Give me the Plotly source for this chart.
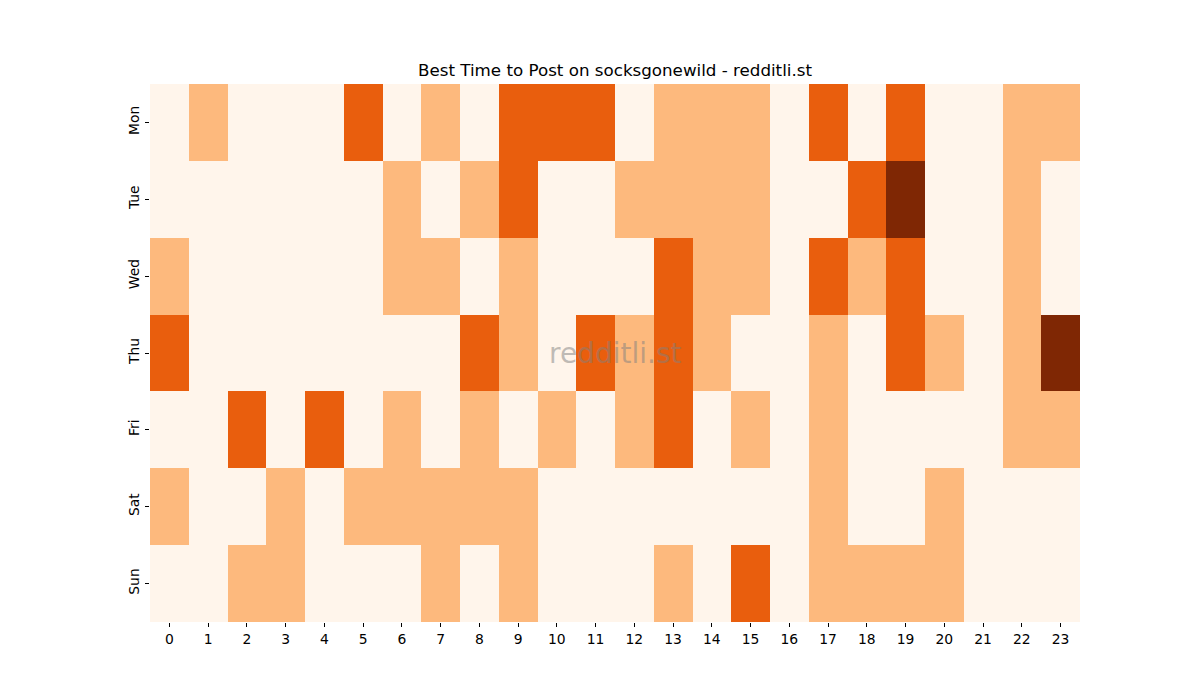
import plotly.graph_objects as go

days = ["Mon", "Tue", "Wed", "Thu", "Fri", "Sat", "Sun"]
hours = list(range(24))

mon = [0,1,0,0,0,2,0,1,0,2,2,2,0,1,1,1,0,2,0,2,0,0,1,1]
tue = [0,0,0,0,0,0,1,0,1,2,0,0,1,1,1,1,0,0,2,3,0,0,1,0]
wed = [1,0,0,0,0,0,1,1,0,1,0,0,0,2,1,1,0,2,1,2,0,0,1,0]
thu = [2,0,0,0,0,0,0,0,2,1,0,2,1,2,1,0,0,1,0,2,1,0,1,3]
fri = [0,0,2,0,2,0,1,0,1,0,1,0,1,2,0,1,0,1,0,0,0,0,1,1]
sat = [1,0,0,1,0,1,1,1,1,1,0,0,0,0,0,0,0,1,0,0,1,0,0,0]
sun = [0,0,1,1,0,0,0,1,0,1,0,0,0,1,0,2,0,1,1,1,1,0,0,0]

z = [mon, tue, wed, thu, fri, sat, sun]

colors = ["#fff5eb", "#fdb97d", "#e95e0d", "#7f2704"]

fig = go.Figure(go.Heatmap(
    z=z, x=hours, y=days,
    zmin=0, zmax=3,
    colorscale=[[0, colors[0]], [1/3, colors[1]], [2/3, colors[2]], [1, colors[3]]],
    showscale=False, xgap=0, ygap=0, hoverinfo="x+y+z",
))

font = "DejaVu Sans, sans-serif"
fig.update_layout(
    width=1200, height=700,
    margin=dict(l=150, r=120, t=84, b=78),
    paper_bgcolor="white", plot_bgcolor="white",
    font=dict(family=font, color="black", size=13.9),
    title=dict(text="Best Time to Post on socksgonewild - redditli.st",
               x=0.5125, xanchor="center", y=1 - 70/700, yanchor="middle",
               font=dict(family=font, size=16.7, color="black")),
    xaxis=dict(tickmode="array", tickvals=hours, ticktext=[str(h) for h in hours],
               ticks="outside", ticklen=4, tickwidth=1, tickcolor="black",
               showgrid=False, zeroline=False, showline=False,
               range=[-0.5, 23.5], constrain="domain"),
    yaxis=dict(autorange="reversed", ticks="outside", ticklen=4, tickwidth=1,
               tickcolor="black", tickangle=-90, showgrid=False, zeroline=False,
               showline=False),
    annotations=[dict(text="redditli.st", xref="paper", yref="paper",
                      x=0.5, y=0.5, xanchor="center", yanchor="middle",
                      showarrow=False,
                      font=dict(family=font, size=28, color="rgba(128,128,128,0.5)"))],
)

fig.write_html("out.html")
